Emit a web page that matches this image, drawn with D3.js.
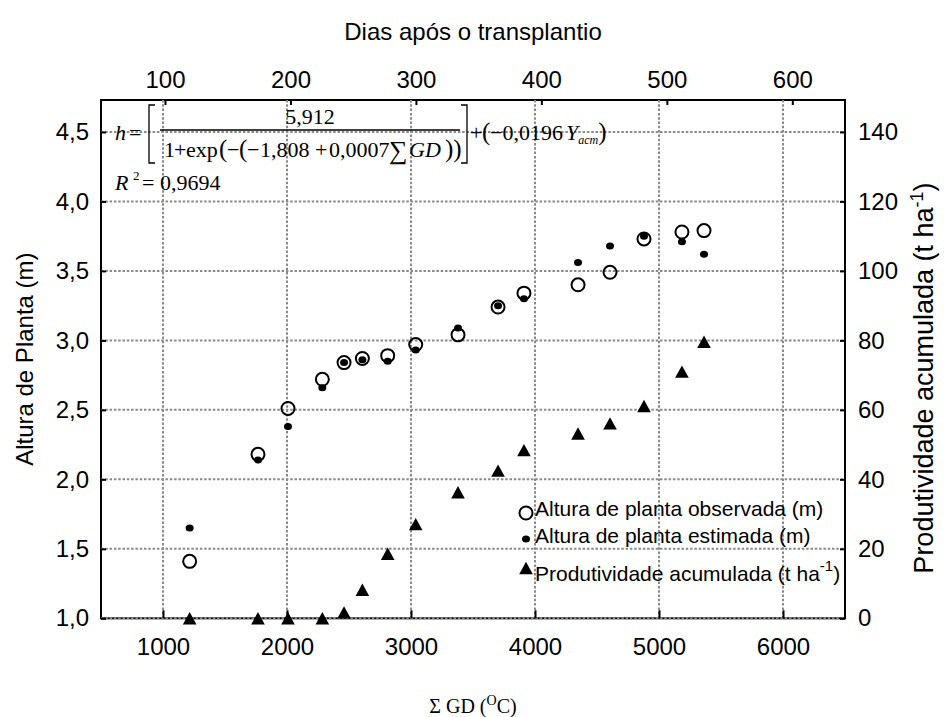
<!DOCTYPE html>
<html>
<head>
<meta charset="utf-8">
<script src="https://cdn.jsdelivr.net/npm/d3@7/dist/d3.min.js"></script>
<style>
  html, body { margin: 0; padding: 0; background: #fff; }
  svg { display: block; }
  .sans { font-family: "Liberation Sans", Arial, Helvetica, sans-serif; }
  .serif { font-family: "Liberation Serif", "Times New Roman", serif; }
</style>
</head>
<body>
<svg id="chart" width="949" height="717"></svg>
<script>
// ---------------- DATA ----------------
const gdValues   = [1215, 1766, 2008, 2285, 2460, 2608, 2812, 3038, 3379, 3702, 3911, 4347, 4605, 4879, 5185, 5363];
const heightObs  = [1.41, 2.18, 2.51, 2.72, 2.84, 2.87, 2.89, 2.97, 3.04, 3.24, 3.34, 3.40, 3.49, 3.73, 3.78, 3.79];
const heightEst  = [1.65, 2.14, 2.38, 2.66, 2.84, 2.86, 2.85, 2.93, 3.09, 3.25, 3.30, 3.56, 3.68, 3.75, 3.71, 3.62];
const prodAcum   = [0, 0, 0, 0, 1.7, 8.2, 18.6, 27.1, 36.3, 42.5, 48.4, 53.2, 56.1, 61.1, 71.0, 79.6];

const gdTicks    = [1000, 2000, 3000, 4000, 5000, 6000];
const dayTicks   = [100, 200, 300, 400, 500, 600];
const heightTicks = [1.0, 1.5, 2.0, 2.5, 3.0, 3.5, 4.0, 4.5];
const prodTicks  = [0, 20, 40, 60, 80, 100, 120, 140];

const legendLabels = ["Altura de planta observada (m)", "Altura de planta estimada (m)", "Produtividade acumulada (t ha"];

// ---------------- LAYOUT ----------------
const svg = d3.select("#chart");
const L = 101, R = 845, T = 100, B = 618.3;

const x = d3.scaleLinear().domain([500, 6500]).range([L, R]);
const xTop = d3.scaleLinear().domain([49, 642]).range([L, R]);
const yL = d3.scaleLinear().domain([1, 4.73]).range([B, T]);
const yR = d3.scaleLinear().domain([0, 149.2]).range([B, T]);

const gridColor = "#8a8a8a";
const fmtComma = d => d3.format(".1f")(d).replace(".", ",");

// frame
svg.append("rect").attr("x", L).attr("y", T).attr("width", R - L).attr("height", B - T)
  .attr("fill", "none").attr("stroke", "#000").attr("stroke-width", 2);

// grid
const grid = svg.append("g");
grid.selectAll("line.h").data(heightTicks).join("line")
  .attr("x1", L).attr("x2", R).attr("y1", d => yL(d)).attr("y2", d => yL(d))
  .attr("stroke", gridColor).attr("stroke-width", 2).attr("stroke-dasharray", "2.5,1.8");
grid.selectAll("line.v").data(gdTicks).join("line")
  .attr("y1", T).attr("y2", B).attr("x1", d => x(d)).attr("x2", d => x(d))
  .attr("stroke", gridColor).attr("stroke-width", 2).attr("stroke-dasharray", "2.5,1.8");

// axes
function styleAxis(g, size) {
  g.select(".domain").remove();
  g.selectAll(".tick line").attr("stroke", "#000").attr("stroke-width", 2);
  g.selectAll(".tick text").attr("class", "sans").attr("font-size", size).attr("fill", "#000");
}
svg.append("g").attr("transform", `translate(0,${B})`)
  .call(d3.axisBottom(x).tickValues(gdTicks).tickFormat(d3.format("d")).tickSize(-8).tickPadding(20))
  .call(g => styleAxis(g, 24));
svg.append("g").attr("transform", `translate(0,${T})`)
  .call(d3.axisTop(xTop).tickValues(dayTicks).tickFormat(d3.format("d")).tickSize(-5).tickPadding(12))
  .call(g => styleAxis(g, 24));
svg.append("g").attr("transform", `translate(${L},0)`)
  .call(d3.axisLeft(yL).tickValues(heightTicks).tickFormat(fmtComma).tickSize(-5).tickPadding(12))
  .call(g => styleAxis(g, 24));
svg.append("g").attr("transform", `translate(${R},0)`)
  .call(d3.axisRight(yR).tickValues(prodTicks).tickFormat(d3.format("d")).tickSize(-5).tickPadding(13))
  .call(g => styleAxis(g, 24));

// axis titles
svg.append("text").attr("class", "sans").attr("x", (L + R) / 2).attr("y", 40)
  .attr("text-anchor", "middle").attr("font-size", 24).text("Dias após o transplantio");
svg.append("text").attr("class", "sans").attr("transform", `translate(33,${(T + B) / 2}) rotate(-90)`)
  .attr("text-anchor", "middle").attr("font-size", 24).text("Altura de Planta (m)");
const rt = svg.append("text").attr("class", "sans").attr("transform", `translate(933,378) rotate(-90)`)
  .attr("text-anchor", "middle").attr("font-size", 27);
rt.append("tspan").text("Produtividade acumulada (t ha");
rt.append("tspan").attr("dy", -10).attr("font-size", 18).text("-1");
rt.append("tspan").attr("dy", 10).text(")");

const bt = svg.append("text").attr("class", "serif").attr("x", (L + R) / 2).attr("y", 713)
  .attr("text-anchor", "middle").attr("font-size", 20);
bt.append("tspan").text("\u03A3 GD (");
bt.append("tspan").attr("dy", -8).attr("font-size", 14).text("O");
bt.append("tspan").attr("dy", 8).text("C)");

// ---------------- MARKS ----------------
const pts = gdValues.map((g, i) => ({ g, o: heightObs[i], e: heightEst[i], p: prodAcum[i] }));
const tri = "M0,-6.2L6.8,6.2L-6.8,6.2Z";

svg.append("g").selectAll("circle").data(pts).join("circle")
  .attr("cx", d => x(d.g)).attr("cy", d => yL(d.o)).attr("r", 6.5)
  .attr("fill", "none").attr("stroke", "#000").attr("stroke-width", 2);
svg.append("g").selectAll("ellipse").data(pts).join("ellipse")
  .attr("cx", d => x(d.g)).attr("cy", d => yL(d.e)).attr("rx", 4).attr("ry", 3.5)
  .attr("fill", "#000");
svg.append("g").selectAll("path").data(pts).join("path")
  .attr("transform", d => `translate(${x(d.g)},${yR(d.p)})`).attr("d", tri).attr("fill", "#000");

// ---------------- LEGEND ----------------
const lg = svg.append("g");
const legY = [513, 539, 568];
lg.append("circle").attr("cx", 526).attr("cy", legY[0]).attr("r", 6.5).attr("fill", "none").attr("stroke", "#000").attr("stroke-width", 2);
lg.append("ellipse").attr("cx", 526).attr("cy", legY[1]).attr("rx", 4).attr("ry", 3.5).attr("fill", "#000");
lg.append("path").attr("transform", `translate(526,${legY[2]})`).attr("d", tri).attr("fill", "#000");
lg.append("text").attr("class", "sans").attr("x", 535).attr("y", 516).attr("font-size", 21).text(legendLabels[0]);
lg.append("text").attr("class", "sans").attr("x", 535).attr("y", 543).attr("font-size", 21).text(legendLabels[1]);
const l3 = lg.append("text").attr("class", "sans").attr("x", 535).attr("y", 581).attr("font-size", 21);
l3.append("tspan").text(legendLabels[2]);
l3.append("tspan").attr("dy", -10).attr("font-size", 15).text("-1");
l3.append("tspan").attr("dy", 10).text(")");

// ---------------- EQUATION ----------------
const eq = svg.append("g").attr("class", "serif").attr("font-size", 22);
eq.append("text").attr("x", 115).attr("y", 140).attr("font-style", "italic").text("h");
eq.append("text").attr("x", 129).attr("y", 140).text("=");
eq.append("path").attr("d", "M155,105 L149,105 L149,163 L155,163").attr("fill", "none").attr("stroke", "#000").attr("stroke-width", 1.3);
eq.append("path").attr("d", "M461,105 L467,105 L467,163 L461,163").attr("fill", "none").attr("stroke", "#000").attr("stroke-width", 1.3);
eq.append("line").attr("x1", 160).attr("x2", 460).attr("y1", 130).attr("y2", 130).attr("stroke", "#000").attr("stroke-width", 1.3);
eq.append("text").attr("x", 310).attr("y", 124).attr("text-anchor", "middle").text("5,912");
const den = eq.append("text").attr("y", 157);
den.append("tspan").attr("x", 164).text("1");
den.append("tspan").attr("x", 174).text("+");
den.append("tspan").attr("x", 186).text("exp");
den.append("tspan").attr("x", 219).attr("font-size", 25).text("(");
den.append("tspan").attr("x", 227).text("\u2212");
den.append("tspan").attr("x", 239).attr("font-size", 25).text("(");
den.append("tspan").attr("x", 247).text("\u2212");
den.append("tspan").attr("x", 260).text("1,808");
den.append("tspan").attr("x", 315).text("+");
den.append("tspan").attr("x", 329).text("0,0007");
den.append("tspan").attr("x", 389).attr("font-size", 26).attr("dy", 2).text("\u2211");
den.append("tspan").attr("x", 409).attr("dy", -2).attr("font-style", "italic").text("GD");
den.append("tspan").attr("x", 445).attr("font-size", 25).text("))");
const tail = eq.append("text").attr("y", 140);
tail.append("tspan").attr("x", 470).text("+");
tail.append("tspan").attr("x", 482).attr("font-size", 25).text("(");
tail.append("tspan").attr("x", 490).text("\u22120,0196");
tail.append("tspan").attr("x", 566).attr("font-style", "italic").text("Y");
tail.append("tspan").attr("dy", 4).attr("font-size", 12).attr("font-style", "italic").text("acm");
tail.append("tspan").attr("dy", -4).attr("font-size", 25).text(")");
const r2 = eq.append("text").attr("y", 190);
r2.append("tspan").attr("x", 115).attr("font-style", "italic").text("R");
r2.append("tspan").attr("x", 133).attr("dy", -10).attr("font-size", 13).text("2");
r2.append("tspan").attr("x", 142).attr("dy", 10).text("=");
r2.append("tspan").attr("x", 160).text("0,9694");
</script>
</body>
</html>
